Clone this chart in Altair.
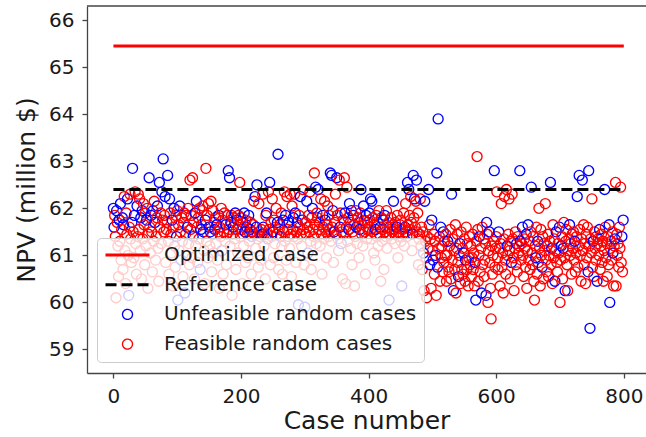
import altair as alt
import pandas as pd

# ---- data ----
CASE_LINE_X = [0, 800]
OPTIMIZED_NPV = 65.45
REFERENCE_NPV = 62.40

NPV = [
    # 0-39
    62.00, 61.60, 61.85, 61.40, 60.10, 61.95, 61.70, 61.20, 60.55, 61.75,
    61.30, 62.10, 60.90, 61.55, 61.80, 60.70, 61.65, 62.25, 61.10, 60.40,
    61.90, 61.45, 62.20, 61.00, 60.15, 61.60, 62.30, 61.35, 60.85, 61.70,
    62.85, 61.50, 60.95, 61.85, 62.35, 61.25, 60.60, 62.05, 61.40, 62.30,
    # 40-79
    61.55, 62.20, 61.10, 61.80, 60.50, 61.95, 61.35, 62.10, 61.65, 60.80,
    61.90, 61.20, 61.75, 62.00, 60.30, 61.45, 62.65, 61.60, 61.05, 61.85,
    61.50, 60.65, 61.95, 61.30, 62.15, 61.70, 60.90, 61.40, 61.80, 62.05,
    61.15, 60.45, 62.55, 61.60, 61.90, 61.25, 62.35, 61.75, 63.05, 61.50,
    # 80-119
    61.85, 62.25, 60.85, 61.55, 61.70, 62.70, 61.30, 60.60, 62.20, 61.90,
    61.45, 61.05, 61.75, 60.35, 61.60, 62.00, 61.20, 60.75, 61.85, 61.40,
    61.95, 60.05, 61.65, 61.10, 62.05, 61.50, 60.90, 61.80, 61.30, 60.55,
    61.70, 61.90, 60.20, 61.45, 61.85, 61.00, 61.60, 62.00, 61.25, 60.80,
    # 120-159
    62.60, 61.55, 61.85, 60.95, 62.65, 61.40, 61.70, 60.50, 61.90, 61.20,
    62.15, 61.60, 60.85, 61.80, 61.35, 62.00, 60.70, 61.55, 61.65, 61.95,
    62.05, 61.50, 61.10, 60.40, 61.75, 62.85, 61.30, 61.85, 60.95, 62.10,
    61.60, 61.20, 61.50, 62.15, 60.65, 61.45, 61.95, 61.05, 61.70, 61.55,
    # 160-199
    61.80, 61.25, 61.65, 60.90, 61.50, 61.85, 60.30, 61.60, 61.40, 62.00,
    61.10, 61.75, 60.60, 61.50, 61.90, 61.30, 61.65, 60.80, 61.45, 61.85,
    62.80, 61.55, 62.65, 61.20, 61.70, 61.85, 60.15, 61.45, 61.60, 61.80,
    61.35, 61.90, 60.70, 61.55, 61.75, 61.05, 61.85, 61.65, 62.55, 61.40,
    # 200-239
    61.80, 61.55, 60.40, 61.70, 61.20, 61.90, 61.50, 60.85, 61.75, 61.60,
    61.45, 60.95, 61.85, 61.30, 61.55, 61.70, 60.60, 61.40, 61.50, 61.65,
    62.15, 61.45, 62.25, 61.15, 61.60, 62.50, 61.35, 60.75, 62.10, 61.50,
    61.40, 60.90, 61.55, 61.45, 62.30, 61.60, 61.20, 61.45, 60.50, 61.85,
    # 240-279
    61.90, 61.45, 61.35, 62.35, 61.55, 62.55, 60.80, 61.70, 61.40, 62.20,
    61.50, 60.95, 61.75, 61.25, 61.60, 62.00, 61.45, 61.70, 63.15, 60.70,
    61.55, 61.65, 61.40, 61.90, 61.20, 60.60, 61.75, 61.50, 62.35, 61.30,
    61.85, 60.90, 62.25, 61.55, 61.40, 61.70, 61.15, 62.30, 61.45, 60.55,
    # 280-319
    62.05, 61.55, 61.80, 61.40, 62.30, 61.90, 60.85, 61.50, 61.70, 61.35,
    59.95, 61.85, 61.60, 62.25, 61.45, 61.20, 61.75, 62.40, 61.55, 60.80,
    59.90, 61.70, 61.45, 62.15, 61.60, 61.05, 61.85, 61.50, 62.35, 61.30,
    60.70, 61.80, 62.00, 61.55, 61.40, 62.75, 61.65, 62.45, 61.25, 61.90,
    # 320-359
    61.80, 62.40, 61.55, 61.70, 61.20, 62.20, 61.45, 60.60, 61.85, 61.60,
    61.35, 62.15, 61.75, 61.50, 60.95, 61.65, 62.05, 61.40, 61.85, 61.55,
    62.75, 61.30, 62.70, 61.60, 61.95, 60.85, 61.50, 61.70, 62.30, 61.45,
    62.65, 61.85, 61.35, 61.10, 62.60, 61.60, 61.90, 61.25, 61.50, 60.50,
    # 360-399
    61.75, 61.45, 62.65, 61.90, 60.40, 61.60, 62.45, 61.30, 61.80, 61.55,
    62.10, 61.70, 61.15, 61.95, 60.80, 61.50, 61.85, 61.65, 60.35, 61.40,
    61.95, 61.60, 61.25, 61.80, 61.70, 60.95, 61.55, 61.90, 62.40, 61.45,
    61.65, 61.20, 62.05, 61.75, 61.50, 60.60, 61.85, 61.35, 61.70, 61.55,
    # 400-439
    61.60, 61.90, 61.75, 62.20, 61.35, 62.15, 61.50, 61.80, 61.05, 61.65,
    60.90, 61.55, 61.85, 61.40, 61.70, 61.20, 61.95, 61.45, 61.60, 60.45,
    61.80, 61.30, 61.55, 61.75, 60.70, 61.85, 61.50, 61.40, 61.95, 61.15,
    61.60, 61.70, 60.05, 61.45, 61.55, 61.80, 61.35, 61.50, 61.65, 62.15,
    # 440-479
    61.55, 61.25, 61.70, 61.45, 61.60, 61.85, 60.95, 61.40, 61.50, 61.65,
    61.75, 61.30, 60.35, 61.55, 61.45, 61.90, 61.20, 61.60, 62.10, 61.50,
    61.40, 62.55, 61.65, 62.40, 61.85, 61.55, 62.25, 61.70, 61.10, 61.45,
    62.70, 61.80, 62.20, 61.60, 62.15, 62.60, 61.50, 61.90, 60.80, 61.35,
    # 480-519
    61.45, 62.20, 61.20, 61.60, 60.70, 61.50, 61.05, 60.25, 62.15, 61.30,
    60.95, 60.10, 61.40, 61.15, 62.40, 61.65, 60.80, 61.35, 60.30, 61.75,
    61.10, 60.90, 61.45, 60.60, 61.30, 61.00, 60.15, 62.75, 60.75, 63.90,
    61.15, 61.40, 60.45, 61.60, 60.95, 61.20, 60.65, 61.50, 60.85, 61.30,
    # 520-559
    61.00, 61.45, 60.45, 61.00, 61.30, 60.75, 60.65, 61.20, 61.55, 60.50,
    62.30, 60.90, 61.35, 60.25, 61.10, 60.70, 61.65, 60.20, 61.15, 61.45,
    60.85, 60.55, 61.00, 61.25, 60.40, 61.50, 60.70, 61.15, 60.60, 61.05,
    61.35, 60.45, 60.90, 61.60, 60.70, 61.25, 60.35, 60.95, 61.40, 60.80,
    # 560-599
    61.20, 60.55, 60.95, 61.45, 60.70, 61.05, 60.35, 60.85, 60.05, 61.30,
    63.10, 61.55, 60.45, 61.00, 61.40, 60.65, 61.15, 60.20, 61.60, 60.80,
    61.35, 60.55, 60.90, 61.25, 60.15, 61.70, 61.45, 60.00, 61.10, 61.50,
    60.85, 60.30, 59.65, 61.20, 60.60, 61.00, 61.30, 62.80, 60.75, 61.15,
    # 600-639
    61.40, 62.35, 60.95, 60.70, 61.50, 61.15, 60.35, 61.25, 62.10, 60.75,
    61.05, 60.20, 61.35, 62.25, 60.90, 60.60, 62.40, 61.20, 61.00, 61.45,
    62.20, 61.10, 60.50, 61.30, 60.85, 62.30, 61.35, 60.95, 60.25, 61.15,
    61.50, 60.80, 61.25, 60.65, 61.40, 61.05, 61.20, 62.80, 61.30, 60.90,
    # 640-679
    61.25, 61.60, 61.00, 60.55, 61.35, 61.15, 60.75, 61.45, 60.30, 61.10,
    61.65, 60.90, 61.30, 60.70, 61.50, 62.45, 61.05, 60.80, 61.40, 60.45,
    60.05, 61.20, 60.95, 61.60, 60.60, 61.30, 60.85, 62.00, 61.15, 60.35,
    61.55, 61.00, 60.75, 61.40, 60.50, 61.25, 61.10, 62.10, 60.90, 60.65,
    # 680-719
    61.20, 61.45, 60.55, 61.00, 61.30, 62.55, 60.80, 61.15, 60.40, 61.65,
    60.95, 61.35, 60.45, 61.10, 61.50, 60.85, 60.65, 61.25, 61.05, 61.60,
    60.00, 60.90, 61.20, 61.40, 60.50, 61.15, 61.70, 60.95, 60.25, 61.30,
    61.55, 60.80, 60.25, 61.10, 61.35, 61.65, 61.00, 61.25, 60.60, 61.45,
    # 720-759
    61.15, 61.50, 60.90, 61.30, 60.65, 61.05, 61.40, 62.25, 60.75, 61.20,
    62.70, 61.55, 61.00, 60.45, 61.35, 62.60, 61.10, 61.65, 60.80, 61.25,
    60.40, 61.45, 60.95, 61.60, 60.65, 62.80, 61.20, 59.45, 61.35, 61.05,
    62.20, 60.75, 61.30, 60.55, 61.50, 61.15, 60.90, 61.40, 60.45, 61.25,
    # 760-799
    61.35, 61.00, 61.55, 60.70, 61.20, 61.45, 60.85, 61.30, 60.45, 61.10,
    62.40, 61.60, 60.95, 61.25, 60.55, 61.40, 60.80, 61.65, 60.00, 61.15,
    61.30, 60.90, 61.50, 61.05, 60.35, 61.20, 61.35, 62.55, 60.35, 61.45,
    61.00, 61.25, 60.75, 61.60, 61.15, 62.45, 60.85, 61.40, 60.65, 61.75,
]

# b = unfeasible (blue), r = feasible (red), one letter per case
STATUS_BLOCKS = [
    "bbrrrbrrrb" "rbrrbrbrrr" "rrbrbrrrrb" "brrbrrrbrr",
    "rrrbrbrrrr" "rrbrrrbrrb" "rrbrrbrrrb" "rrbrrrbrbr",
    "rbrrrbrrbr" "rrbrrbrrrb" "rbrrbrbrrr" "rrbrrrbrrr",
    "rrrrrbrrbr" "brrrrrbbrr" "rbrrbrrrrr" "brbrrrrrrb",
    "rrbrrbrrrr" "brrrrrbrrr" "brbrbrrrbr" "rbrrbrrrrr",
    "rrrrrbbrrb" "rrbrbrrbrr" "rrbrbbrrrr" "rrrbrbrrrr",
    "brbrrbrrrr" "brrrrrrbbr" "rrbrrrbrrr" "brrrrbrrrr",
    "rrbrrbrrbr" "brrbrrbrrr" "brrbrbrrrr" "rrbrrrrbrr",
    "rbrrrrrrbr" "rrbrrrrrrr" "brbrbrbrrr" "brrrrbrbrr",
    "rrrbrrrrrb" "brrbrrbrrr" "rbrrrrbrbr" "rrbrrrbrrr",
    "rbrbrbrrrr" "rbrrrrrrbr" "rrrbrbrrrr" "rrbrrrrrrb",
    "rrrrbrrrrr" "rrbrrrrbrr" "rbrbrrrrrb" "brbrrbrrrr",
    "rrrrrrbrbr" "rrrrbrbrrb" "rbrrrbrbbb" "rrrbrrrbrr",
    "rrrrbrrrrr" "brrbrrrrrr" "rbrbrrrrrb" "rrbrrrrrrr",
    "rrrrrrrbbr" "rrrrbrrbrr" "rrrrbbrrrb" "rrrrrrrbrr",
    "rrrrbrrrrr" "rrrrrrrbrr" "rrrrbrrrrr" "rrbrrrrbbr",
    "rbrrrrrbrr" "brrrrbrrrr" "rrbrrbrrrr" "rrbrrrrrrr",
    "rrrrrbrbrr" "rrbrbrrrrb" "rrbrrbrrbr" "rrrrrbrrrr",
    "rrrbrrrbrr" "brrrrbrrrr" "rrrrbbrbrr" "rrbrrrrrbr",
    "rrbrrrrrrr" "brrrrrrbbr" "rrrbrrbrrr" "rrrrrrrbrb",
]

SERIES = ["Optimized case", "Reference case",
          "Unfeasible random cases", "Feasible random cases"]
COLORS = ["#ff0000", "#000000", "#0000ff", "#ff0000"]
STROKES = [3, 3, 1.35, 1.35]

STATUS = "".join(STATUS_BLOCKS)
n = min(len(NPV), len(STATUS))
pts = pd.DataFrame({
    "case": list(range(n)),
    "npv": NPV[:n],
    "series": [SERIES[2] if STATUS[i] == "b" else SERIES[3] for i in range(n)],
})

lines = pd.DataFrame({
    "case": CASE_LINE_X * 2,
    "npv": [OPTIMIZED_NPV] * 2 + [REFERENCE_NPV] * 2,
    "series": [SERIES[0]] * 2 + [SERIES[1]] * 2,
})

W, H = 559, 367
r = 0.227
circ = f"M-{r},0A{r},{r},0,1,1,{r},0A{r},{r},0,1,1,-{r},0Z"
hline = "M-1,0H1"
SYM = 1936  # sqrt = 44 px

color = alt.Color("series:N", title=None,
                  scale=alt.Scale(domain=SERIES, range=COLORS))
swidth = alt.StrokeWidth("series:N", title=None,
                         scale=alt.Scale(type="ordinal", domain=SERIES, range=STROKES))

x_enc = alt.X("case:Q", scale=alt.Scale(domain=[-41.4, 834.8], nice=False, zero=False),
              axis=alt.Axis(values=[0, 200, 400, 600, 800], title="Case number",
                            labelFontSize=20, titleFontSize=25, tickSize=5,
                            labelBaseline="alphabetic", labelPadding=24,
                            titleBaseline="alphabetic", titleY=55,
                            grid=False, labelOverlap=False, labelFlush=False))
y_enc = alt.Y("npv:Q", scale=alt.Scale(domain=[58.5, 66.3], nice=False, zero=False),
              axis=alt.Axis(values=[59, 60, 61, 62, 63, 64, 65, 66],
                            title="NPV (million $)", labelFontSize=20,
                            titleFontSize=25, tickSize=5, labelPadding=8,
                            titleX=-53, titleY=183.5, titleAngle=-90,
                            titleBaseline="alphabetic", titleAlign="center",
                            grid=False, labelOverlap=False, labelFlush=False))

points = alt.Chart(pts).mark_point(filled=False, size=SYM, opacity=1).encode(
    x=x_enc, y=y_enc, color=color, strokeWidth=swidth,
    shape=alt.Shape("series:N", title=None,
                    scale=alt.Scale(domain=SERIES, range=[hline, hline, circ, circ])),
    order=alt.Order("case:Q"),
)

line_layer = alt.Chart(lines).mark_line().encode(
    x="case:Q", y="npv:Q", color=color, strokeWidth=swidth,
    strokeDash=alt.StrokeDash("series:N", title=None,
                              scale=alt.Scale(domain=SERIES,
                                              range=[[1, 0], [11, 5], [1, 0], [1, 0]])),
    detail="series:N",
)

top_frame = alt.Chart(pd.DataFrame({"f": [0]})).mark_rule(
    color="#444444", strokeWidth=1.3
).encode(y=alt.value(0), x=alt.value(0), x2=alt.value(W))

chart = alt.layer(points, line_layer, top_frame).properties(
    width=W, height=H,
    autosize=alt.AutoSizeParams(type="none"),
    padding={"left": 87, "top": 6, "right": 0, "bottom": 64},
).configure_view(stroke=None).configure_axis(
    labelFont="DejaVu Sans", titleFont="DejaVu Sans", titleFontWeight="normal",
    labelColor="#1a1a1a", titleColor="#1a1a1a",
    domainColor="#444444", tickColor="#444444", domainWidth=1.3, tickWidth=1.3,
).configure_legend(
    orient="none", legendX=10, legendY=232, direction="vertical",
    fillColor="rgba(255,255,255,0.8)", strokeColor="#cccccc", cornerRadius=4,
    padding=7, labelFont="DejaVu Sans", labelFontSize=20, labelColor="#1a1a1a",
    labelOffset=13, rowPadding=9.7, clipHeight=20, symbolSize=SYM,
    symbolFillColor="transparent", labelLimit=0, titleLimit=0,
)

chart.save("out.html", embed_options={"renderer": "svg", "actions": False})
